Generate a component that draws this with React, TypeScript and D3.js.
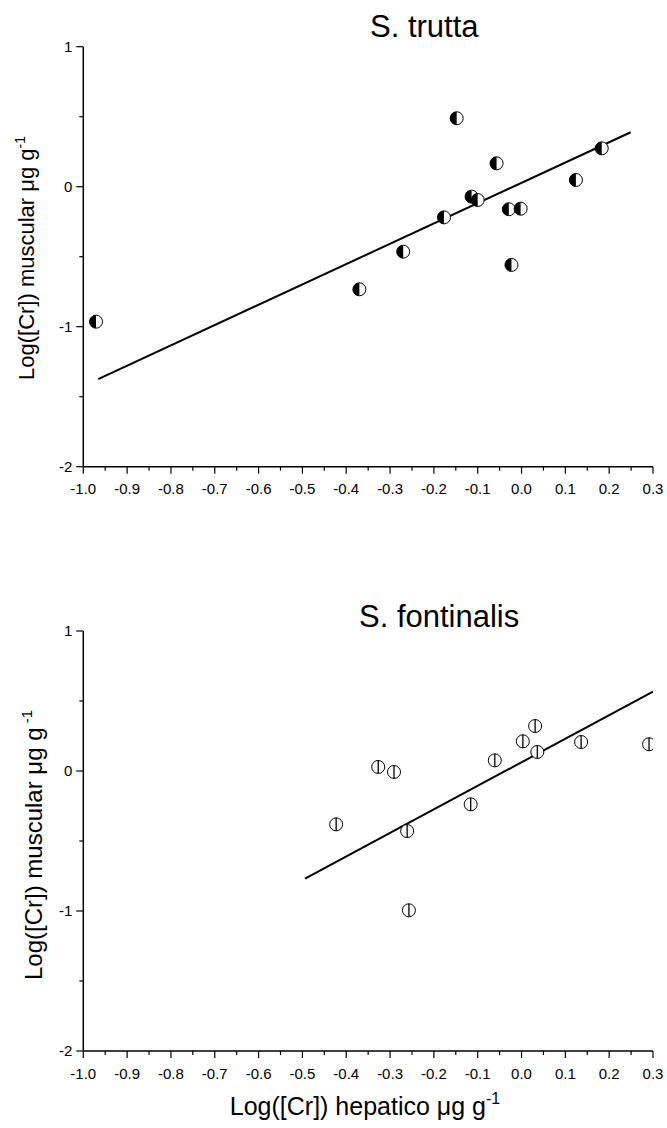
import React from "react";
import * as d3 from "d3";

const xTicks = [-1.0, -0.9, -0.8, -0.7, -0.6, -0.5, -0.4, -0.3, -0.2, -0.1, 0.0, 0.1, 0.2, 0.3];
const yTicks = [1, 0, -1, -2];

const truttaX = [-0.971, -0.37, -0.27, -0.177, -0.148, -0.114, -0.1, -0.057, -0.029, -0.023, -0.002, 0.124, 0.183];
const truttaY = [-0.964, -0.733, -0.464, -0.219, 0.489, -0.071, -0.095, 0.167, -0.161, -0.559, -0.157, 0.048, 0.274];
const truttaFitX = [-0.966, 0.249];
const truttaFitY = [-1.374, 0.389];

const fontX = [-0.423, -0.327, -0.291, -0.261, -0.257, -0.116, -0.061, 0.003, 0.031, 0.036, 0.136, 0.291];
const fontY = [-0.381, 0.029, -0.007, -0.429, -0.995, -0.238, 0.076, 0.212, 0.321, 0.136, 0.207, 0.191];
const fontFitX = [-0.494, 0.3];
const fontFitY = [-0.769, 0.567];

const FONT = "Arial, 'Liberation Sans', sans-serif";

const fmtX = (v: number) => {
  const s = Math.abs(v) < 1e-9 ? "0.0" : v.toFixed(1);
  return s;
};

type PanelProps = {
  id: string;
  top: number; // pixel of y=1
  title: string;
  titleX: number;
  titleY: number;
  xs: number[];
  ys: number[];
  fitX: number[];
  fitY: number[];
  marker: "half" | "bar";
  yTitle: React.ReactNode;
};

function Panel(p: PanelProps) {
  const x = d3.scaleLinear().domain([-1, 0.3]).range([83.3, 653]);
  const y = d3.scaleLinear().domain([-2, 1]).range([p.top + 420, p.top]);
  const x0 = x(-1);
  const y0 = y(-2);
  const minorX = d3.range(-1, 0.3001, 0.05).map((v) => +v.toFixed(2));
  const minorY = d3.range(-2, 1.0001, 0.5);
  const line = d3
    .line<number>()
    .x((_, i) => x(p.fitX[i]))
    .y((d) => y(d));
  const r = 6.5;
  return (
    <g>
      <defs>
        <clipPath id={p.id}>
          <rect x={x0} y={y(1) - 10} width={x(0.3) - x0} height={y0 - y(1) + 20} />
        </clipPath>
      </defs>
      <text x={p.titleX} y={p.titleY} fontSize={31} fontFamily={FONT} fill="#000">
        {p.title}
      </text>
      <line x1={x0} x2={x0} y1={y(1)} y2={y0} stroke="#000" strokeWidth={1.5} />
      <line x1={x0} x2={x(0.3)} y1={y0} y2={y0} stroke="#000" strokeWidth={1.5} />
      {minorY.map((v) => {
        const major = Math.abs(v - Math.round(v)) < 1e-6;
        return (
          <line key={"my" + v} x1={x0} x2={x0 - (major ? 7 : 4)} y1={y(v)} y2={y(v)} stroke="#000" strokeWidth={1.2} />
        );
      })}
      {minorX.map((v, i) => {
        const major = i % 2 === 0;
        return (
          <line key={"mx" + v} x1={x(v)} x2={x(v)} y1={y0} y2={y0 + (major ? 7 : 4)} stroke="#000" strokeWidth={1.2} />
        );
      })}
      {yTicks.map((v) => (
        <text key={"ty" + v} x={x0 - 11} y={y(v) + 5} fontSize={15} fontFamily={FONT} textAnchor="end" fill="#000">
          {String(v)}
        </text>
      ))}
      {xTicks.map((v) => (
        <text key={"tx" + v} x={x(v)} y={y0 + 27.5} fontSize={15} fontFamily={FONT} textAnchor="middle" fill="#000">
          {fmtX(v)}
        </text>
      ))}
      {p.yTitle}
      <g clipPath={`url(#${p.id})`}>
        <path d={line(p.fitY) || ""} stroke="#000" strokeWidth={2} fill="none" />
        {p.xs.map((xv, i) => {
          const cx = x(xv);
          const cy = y(p.ys[i]);
          if (p.marker === "half") {
            return (
              <g key={i}>
                <circle cx={cx} cy={cy} r={r} fill="#fff" stroke="#000" strokeWidth={1} />
                <path d={`M${cx},${cy - r} A${r},${r} 0 0,0 ${cx},${cy + r} Z`} fill="#000" />
              </g>
            );
          }
          return (
            <g key={i}>
              <circle cx={cx} cy={cy} r={r} fill="#fff" stroke="#000" strokeWidth={1} />
              <line x1={cx} x2={cx} y1={cy - r} y2={cy + r} stroke="#000" strokeWidth={1.3} />
            </g>
          );
        })}
      </g>
    </g>
  );
}

export default function App() {
  return (
    <div style={{ position: "absolute", left: 0, top: 0 }}>
      <svg width={667} height={1128} style={{ display: "block", background: "#fff" }}>
        <rect width={667} height={1128} fill="#fff" />
        <Panel
          id="clipTop"
          top={46.7}
          title="S. trutta"
          titleX={370}
          titleY={37}
          xs={truttaX}
          ys={truttaY}
          fitX={truttaFitX}
          fitY={truttaFitY}
          marker="half"
          yTitle={
            <text
              transform="translate(33.5,258) rotate(-90)"
              fontSize={22}
              fontFamily={FONT}
              textAnchor="middle"
              fill="#000"
            >
              Log([Cr]) muscular μg g
              <tspan fontSize={14} dy={-9}>-1</tspan>
            </text>
          }
        />
        <Panel
          id="clipBottom"
          top={631}
          title="S. fontinalis"
          titleX={359}
          titleY={626.5}
          xs={fontX}
          ys={fontY}
          fitX={fontFitX}
          fitY={fontFitY}
          marker="bar"
          yTitle={
            <text
              transform="translate(42,845) rotate(-90)"
              fontSize={24}
              fontFamily={FONT}
              textAnchor="middle"
              fill="#000"
            >
              Log([Cr]) muscular μg g
              <tspan fontSize={15} dy={-10}> -1</tspan>
            </text>
          }
        />
        <text x={365} y={1115} fontSize={25} fontFamily={FONT} textAnchor="middle" fill="#000">
          Log([Cr]) hepatico μg g
          <tspan fontSize={16} dy={-11}>-1</tspan>
        </text>
      </svg>
    </div>
  );
}
